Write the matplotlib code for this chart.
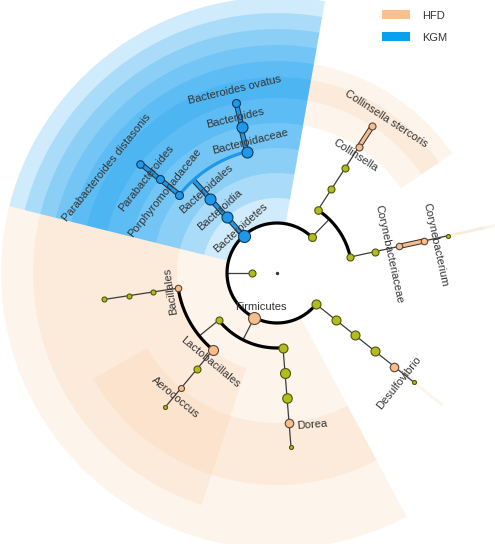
import numpy as np
import matplotlib.pyplot as plt
from matplotlib.patches import Wedge, Patch

plt.rcParams['font.family'] = ['Liberation Sans', 'DejaVu Sans']

# clade tree (index = node id), rank level 0 = root ... 7 = species
names = ['root', 'Bacteria',
         'Bacteroidetes', 'Actinobacteria', 'Firmicutes', 'Proteobacteria',
         'Bacteroidia', 'Coriobacteriia', 'Actinobacteria_c', 'Bacilli', 'Clostridia', 'Deltaproteobacteria',
         'Bacteroidales', 'Coriobacteriales', 'Corynebacteriales', 'Bacillales', 'Lactobacillales',
         'Clostridiales', 'Desulfovibrionales',
         'Bacteroidaceae', 'Porphyromonadaceae', 'Coriobacteriaceae', 'Corynebacteriaceae',
         'Bacillales_f', 'Aerococcaceae', 'Lachnospiraceae', 'Desulfovibrionaceae',
         'Bacteroides', 'Parabacteroides', 'Collinsella', 'Corynebacterium', 'Bacillales_g',
         'Aerococcus', 'Dorea', 'Desulfovibrio',
         'Bacteroides ovatus', 'Parabacteroides distasonis', 'Collinsella stercoris', 'Corynebacterium_s',
         'Bacillales_s', 'Aerococcus_s', 'Dorea_s', 'Desulfovibrio_s']
parents = [None, None,
           1, 1, 1, 1,
           2, 3, 3, 4, 4, 5,
           6, 7, 8, 9, 9, 10, 11,
           12, 12, 13, 14, 15, 16, 17, 18,
           19, 20, 21, 22, 23, 24, 25, 26,
           27, 28, 29, 30, 31, 32, 33, 34]
levels = [0, 1] + [2] * 4 + [3] * 6 + [4] * 7 + [5] * 8 + [6] * 8 + [7] * 8
angles = [0, 180,
          132, 45.8, 243, 321.4,
          132, 57, 12.3, 219, 274.6, 321.4,
          132, 57, 12.3, 188.7, 230.2, 274.6, 321.4,
          104, 141.3, 57, 12.3, 188.7, 230.2, 274.6, 321.4,
          103.5, 141.3, 57, 12.3, 188.7, 230.2, 274.6, 321.4,
          103.5, 141.3, 57, 12.3, 188.7, 230.2, 274.6, 321.4]
groups = ['', '',
          'KGM', '', 'HFD', '',
          'KGM', '', '', '', '', '',
          'KGM', '', '', 'HFD', 'HFD', '', '',
          'KGM', 'KGM', '', 'HFD', '', '', '', '',
          'KGM', 'KGM', 'HFD', 'HFD', '', 'HFD', 'HFD', 'HFD',
          'KGM', 'KGM', 'HFD', '', '', '', '', '']
abundance = [2, 7,
             12, 8, 12, 9,
             11, 7.5, 7, 7, 9, 9,
             11, 7, 7, 6.5, 10, 10, 9,
             11, 8, 7, 6.5, 5, 7, 9.5, 9,
             11, 8, 7, 6.5, 5, 6, 8.5, 8.5,
             8, 7.5, 7, 4, 5, 4, 4, 4]

# angular extent of the shaded sector for each biomarker clade
sector = {'Bacteroidetes': (80, 166), 'Bacteroidia': (80, 166), 'Bacteroidales': (80, 166),
          'Bacteroidaceae': (80, 122.5), 'Bacteroides': (80, 122.5), 'Bacteroides ovatus': (80, 122.5),
          'Porphyromonadaceae': (122.5, 166), 'Parabacteroides': (122.5, 166),
          'Parabacteroides distasonis': (122.5, 166),
          'Firmicutes': (166, 298), 'Bacillales': (166, 210), 'Lactobacillales': (210, 252),
          'Aerococcus': (210, 252), 'Dorea': (252, 298),
          'Collinsella': (34.3, 80), 'Collinsella stercoris': (34.3, 80),
          'Corynebacteriaceae': (11.9, 12.7), 'Corynebacterium': (11.9, 12.7),
          'Desulfovibrio': (321.0, 321.8)}

# label centre (radius, angle); rotation follows the node angle
label_at = {'Bacteroidetes': (58, 129.4), 'Bacteroidia': (85, 132), 'Bacteroidales': (110, 130.2),
            'Bacteroidaceae': (134, 101.6), 'Bacteroides': (160.6, 105.2),
            'Bacteroides ovatus': (187.8, 102.9), 'Porphyromonadaceae': (137.6, 144.5),
            'Parabacteroides': (161.8, 144), 'Parabacteroides distasonis': (199.8, 148.3),
            'Collinsella stercoris': (188.7, 54.7), 'Collinsella': (141.4, 56.5),
            'Corynebacteriaceae': (113.6, 9.6), 'Corynebacterium': (160.5, 10),
            'Desulfovibrio': (164, 318), 'Dorea': (156, 283), 'Firmicutes': (37.6, 244.8),
            'Bacillales': (107.5, 189.6), 'Lactobacillales': (111.4, 233), 'Aerococcus': (160.7, 231)}

group_names = ['HFD', 'KGM']
legend_colors = {'HFD': '#FBBF8F', 'KGM': '#0AA0F0'}
shade = {'HFD': '#F9BF8E', 'KGM': '#0A9AF0'}
shade_alpha = {'HFD': 0.17, 'KGM': 0.19}
node_fill = {'HFD': '#F8BD8C', 'KGM': '#1E98E8', '': '#B2BC1C'}
node_edge = {'HFD': '#5b4636', 'KGM': '#143a5c', '': '#4d560c'}

STEP = 25
n = len(names)


def rad(i):
    return STEP * levels[i]


def xy(r, a):
    t = np.deg2rad(a)
    return r * np.cos(t), r * np.sin(t)


children = {i: [] for i in range(n)}
for i, p in enumerate(parents):
    if p is not None:
        children[p].append(i)

fig = plt.figure(figsize=(4.95, 5.44), dpi=100)
ax = fig.add_axes([0, 0, 1, 1])
ax.set_xlim(-277, 218)
ax.set_ylim(-271, 273)
ax.set_aspect('equal')
ax.axis('off')

# shaded sectors, deeper clades stop short of the outer edge
for i in range(n):
    if names[i] in sector:
        a0, a1 = sector[names[i]]
        r_in = rad(i)
        r_out = 276 - 16 * (levels[i] - 2)
        g = groups[i]
        ax.add_patch(Wedge((0, 0), r_out, a0, a1, width=r_out - r_in,
                           facecolor=shade[g], alpha=shade_alpha[g], lw=0, zorder=1))

# branches: radial stem from parent, arc spanning the children
for p, kids in children.items():
    if not kids or p == 0:
        continue
    rp = rad(p)
    rc = STEP * (levels[p] + 1)
    g = groups[p]
    same = g != '' and all(groups[k] == g for k in kids)
    x0, y0 = xy(rp, angles[p])
    x1, y1 = xy(rc, angles[p])
    if same:
        ax.plot([x0, x1], [y0, y1], color='#2b2b2b', lw=3.8, solid_capstyle='butt', zorder=3)
        ax.plot([x0, x1], [y0, y1], color=node_fill[g], lw=2.4, solid_capstyle='butt', zorder=3.1)
    else:
        ax.plot([x0, x1], [y0, y1], color='#3c3c3c', lw=0.9, zorder=2)
    if len(kids) > 1:
        ka = [angles[k] for k in kids]
        t = np.linspace(min(ka), max(ka), 200)
        ax.plot(*xy(rc, t), color=node_fill[g] if same else 'black',
                lw=2.3, solid_capstyle='round', zorder=3)

# nodes
for i in range(1, n):
    x, y = xy(rad(i), angles[i])
    s = (abundance[i] * 0.72) ** 2
    ax.scatter([x], [y], s=s, c=node_fill[groups[i]], edgecolors=node_edge[groups[i]],
               linewidths=0.8, zorder=5)
ax.scatter([0], [0], s=2, c='#333333', zorder=5)

# clade labels
for i in range(n):
    if names[i] not in label_at:
        continue
    r, a = label_at[names[i]]
    rot = (angles[i] - 90) % 360
    if rot > 180:
        rot -= 360
    if rot > 100 or rot < -100:
        rot -= 180 if rot > 0 else -180
    if names[i] == 'Firmicutes':
        rot = 0
    x, y = xy(r, a)
    ax.text(x, y, names[i], rotation=rot, rotation_mode='anchor', ha='center', va='center',
            fontsize=8, color='#333333', zorder=6)

handles = [Patch(facecolor=legend_colors[g], edgecolor='none') for g in group_names]
ax.legend(handles, group_names, loc='upper left', bbox_to_anchor=(0.764, 0.987),
          bbox_transform=fig.transFigure, frameon=False, fontsize=8,
          handlelength=2.6, handleheight=0.85, handletextpad=1.1, labelspacing=1.05,
          borderaxespad=0, borderpad=0.3, labelcolor='#333333')

fig.savefig('out.png', dpi=100)
